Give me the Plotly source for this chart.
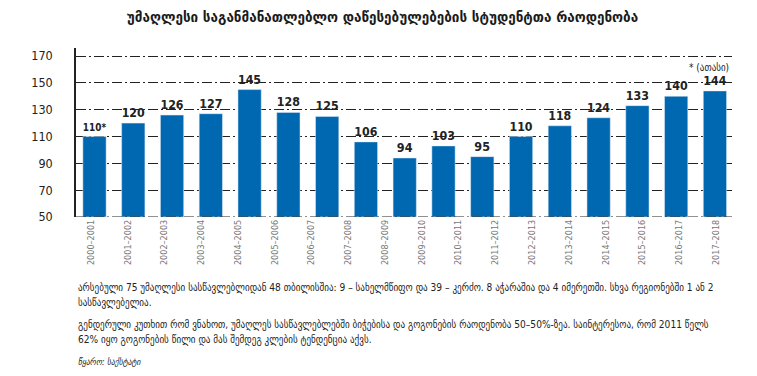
import plotly.graph_objects as go

# bar data (17 academic years shown as bars)
values = [110, 120, 126, 127, 145, 128, 125, 106, 94, 103, 95, 110, 118, 124, 133, 140, 144]
value_labels = ["110*"] + [str(v) for v in values[1:]]

# tick labels printed under the chart (18 of them in the source graphic)
tick_labels = ["2000–2001", "2001–2002", "2002–2003", "2003–2004", "2004–2005", "2005–2006",
               "2006–2007", "2007–2008", "2008–2009", "2009–2010", "2010–2011", "2011–2012",
               "2012–2013", "2013–2014", "2014–2015", "2015–2016", "2016–2017", "2017–2018"]
y_ticks = [50, 70, 90, 110, 130, 150, 170]

title = "უმაღლესი საგანმანათლებლო დაწესებულებების სტუდენტთა რაოდენობა"
unit_note = "* (ათასი)"
notes = [
    "არსებული 75 უმაღლესი სასწავლებლიდან 48 თბილისშია: 9 – სახელმწიფო და 39 – კერძო. 8 აჭარაშია და 4 იმერეთში. სხვა რეგიონებში 1 ან 2",
    "სასწავლებელია.",
    "გენდერული კუთხით რომ ვნახოთ, უმაღლეს სასწავლებლებში ბიჭებისა და გოგონების რაოდენობა 50–50%-ზეა. საინტერესოა, რომ 2011 წელს",
    "62% იყო გოგონების წილი და მას შემდეგ კლების ტენდენცია აქვს.",
]
source = "წყარო: საქსტატი"

FONT = "DejaVu Sans Condensed"
DASH = "10px,3px,2px,3px"

# the page body has an 8px default margin; lay the figure out in page coordinates
OFF = 8
W, H = 757 - OFF, 376 - OFF

fig = go.Figure()
fig.add_trace(go.Bar(
    x=list(range(len(values))), y=[v - 50 for v in values], base=50,
    marker_color="#0067B1",
    text=value_labels, textposition="outside", cliponaxis=False,
    textfont=dict(family=FONT, size=12.5, color="#222222", weight="bold"),
    hoverinfo="skip",
))
# invisible trace carrying the printed year labels axis
fig.add_trace(go.Scatter(x=list(range(len(tick_labels))), y=[None] * len(tick_labels),
                         xaxis="x2", mode="markers", hoverinfo="skip", showlegend=False))

top, bottom = 47.6 - OFF, 217 - OFF
left, right = 76 - OFF, 731.7 - OFF
ph = bottom - top

def py(p):
    return (bottom - (p - OFF)) / ph

fig.update_layout(
    width=W, height=H,
    margin=dict(l=left, r=W - right, t=top, b=H - bottom, pad=0),
    paper_bgcolor="white", plot_bgcolor="white",
    bargap=0.4, showlegend=False,
    font=dict(family=FONT),
    title=dict(text=title, x=0.5, xanchor="center", y=1 - (17 - OFF) / H, yanchor="middle",
               font=dict(family=FONT, size=15, color="#1a1a1a", weight="bold")),
    xaxis=dict(range=[-0.477, 16.44], showticklabels=False, ticks="", showline=False,
               showgrid=False, zeroline=False),
    xaxis2=dict(overlaying="x", anchor="y", side="bottom", range=[-0.41, 17.44],
                tickvals=list(range(len(tick_labels))), ticktext=tick_labels,
                tickangle=-90, ticks="", showline=False, showgrid=False, zeroline=False,
                tickfont=dict(family=FONT, size=9, color="#777777")),
    yaxis=dict(range=[50, 176], tickvals=y_ticks, showgrid=True, gridcolor="#222222",
               griddash=DASH, gridwidth=1, zeroline=False,
               showline=True, linecolor="#222222", linewidth=1.5,
               ticks="", ticklabelstandoff=19,
               tickfont=dict(family=FONT, size=12.5, color="#222222")),
)
fig.add_shape(type="line", xref="paper", yref="y", x0=0, x1=1, y0=50, y1=50,
              line=dict(color="#222222", width=1, dash=DASH))

fig.add_annotation(text=unit_note, xref="paper", yref="paper", x=0.999, y=py(67),
                   xanchor="right", yanchor="middle", showarrow=False,
                   font=dict(family=FONT, size=10, color="#222222"))

note_y = [288, 303, 325, 340]
for t, yy in zip(notes, note_y):
    fig.add_annotation(text=t, xref="paper", yref="paper", x=0, y=py(yy),
                       xanchor="left", yanchor="middle", showarrow=False,
                       font=dict(family=FONT, size=10.1, color="#222222"))
fig.add_annotation(text="<i>" + source + "</i>", xref="paper", yref="paper", x=0, y=py(362),
                   xanchor="left", yanchor="middle", showarrow=False,
                   font=dict(family=FONT, size=8.5, color="#222222"))

fig.write_html("out.html")
